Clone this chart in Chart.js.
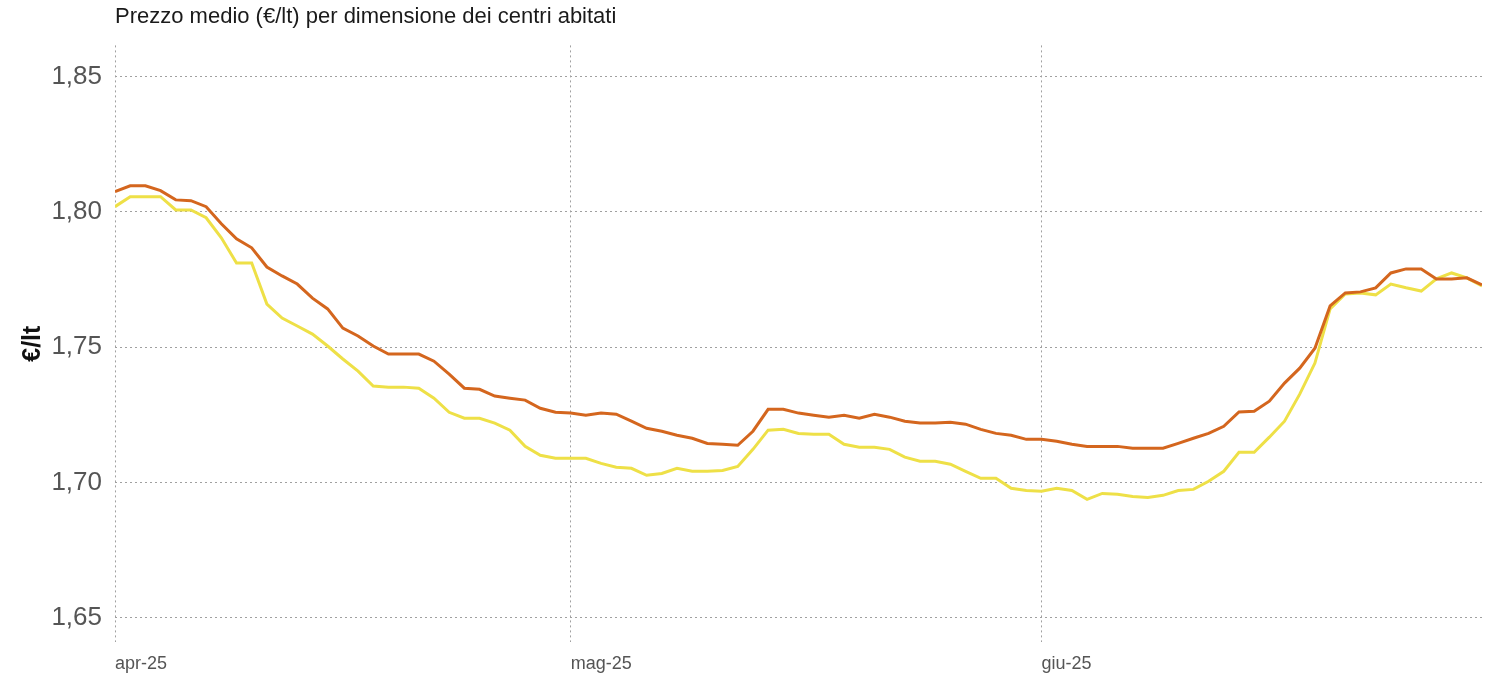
<!DOCTYPE html>
<html>
<head>
<meta charset="utf-8">
<script src="https://cdn.jsdelivr.net/npm/chart.js@4.4.0/dist/chart.umd.min.js"></script>
<style>
  html, body { margin: 0; padding: 0; background: #fff; }
  #wrap { width: 1494px; height: 679px; }
</style>
</head>
<body>
<div id="wrap"><canvas id="chart"></canvas></div>
<script>
// days since 1 April 2025, one point per day
const monthTicks = [0, 30, 61];
const monthLabels = ["apr-25", "mag-25", "giu-25"];
const yTicks = [1.65, 1.70, 1.75, 1.80, 1.85];

const seriesNames = ["Centri grandi", "Centri piccoli"];

const orangeValues = [
  1.8075, 1.8096, 1.8096, 1.8078, 1.8044, 1.8041, 1.8019, 1.7956, 1.7900, 1.7867,
  1.7796, 1.7763, 1.7733, 1.7681, 1.7641, 1.7570, 1.7541, 1.7504, 1.7474, 1.7474,
  1.7474, 1.7448, 1.7400, 1.7348, 1.7344, 1.7319, 1.7311, 1.7304, 1.7274, 1.7259,
  1.7256, 1.7248, 1.7256, 1.7252, 1.7226, 1.7200, 1.7189, 1.7174, 1.7163, 1.7144,
  1.7141, 1.7137, 1.7189, 1.7270, 1.7270, 1.7256, 1.7248, 1.7241, 1.7248, 1.7237,
  1.7252, 1.7241, 1.7226, 1.7219, 1.7219, 1.7222, 1.7215, 1.7196, 1.7181, 1.7174,
  1.7159, 1.7159, 1.7152, 1.7141, 1.7133, 1.7133, 1.7133, 1.7126, 1.7126, 1.7126,
  1.7144, 1.7163, 1.7181, 1.7207, 1.7260, 1.7263, 1.7300, 1.7367, 1.7422, 1.7496,
  1.7652, 1.7700, 1.7704, 1.7719, 1.7774, 1.7789, 1.7789, 1.7752, 1.7752, 1.7756,
  1.7730
];

const yellowValues = [
  1.8019, 1.8056, 1.8056, 1.8056, 1.8007, 1.8007, 1.7978, 1.7904, 1.7811, 1.7811,
  1.7659, 1.7607, 1.7578, 1.7548, 1.7504, 1.7456, 1.7411, 1.7356, 1.7352, 1.7352,
  1.7348, 1.7311, 1.7259, 1.7237, 1.7237, 1.7219, 1.7193, 1.7133, 1.7100, 1.7089,
  1.7089, 1.7089, 1.7070, 1.7056, 1.7052, 1.7026, 1.7033, 1.7052, 1.7041, 1.7041,
  1.7044, 1.7059, 1.7122, 1.7193, 1.7196, 1.7181, 1.7178, 1.7178, 1.7141, 1.7130,
  1.7130, 1.7122, 1.7093, 1.7078, 1.7078, 1.7067, 1.7041, 1.7015, 1.7015, 1.6978,
  1.6970, 1.6967, 1.6978, 1.6970, 1.6937, 1.6959, 1.6956, 1.6948, 1.6944, 1.6952,
  1.6970, 1.6974, 1.7004, 1.7041, 1.7111, 1.7111, 1.7167, 1.7226, 1.7326, 1.7441,
  1.7641, 1.7696, 1.7700, 1.7693, 1.7733, 1.7719, 1.7707, 1.7752, 1.7774, 1.7756,
  1.7726
];

const toPoints = (vals) => vals.map((v, i) => ({ x: i, y: v }));
const gridStyle = { color: "#a0a0a0", lineWidth: 1, drawTicks: false };
const dash = [2, 3];

new Chart(document.getElementById("chart"), {
  type: "line",
  data: {
    datasets: [
      {
        label: seriesNames[0],
        data: toPoints(orangeValues),
        borderColor: "#d4661e",
        borderWidth: 3,
        pointRadius: 0,
        tension: 0,
      },
      {
        label: seriesNames[1],
        data: toPoints(yellowValues),
        borderColor: "#eee047",
        borderWidth: 3,
        pointRadius: 0,
        tension: 0,
      },
    ],
  },
  options: {
    responsive: true,
    maintainAspectRatio: false,
    animation: false,
    layout: { padding: { left: 0, right: 12, top: 0, bottom: 0 } },
    plugins: {
      legend: { display: false },
      tooltip: { enabled: false },
      title: {
        display: true,
        text: "Prezzo medio (€/lt) per dimensione dei centri abitati",
        align: "start",
        fullSize: false,
        color: "#1a1a1a",
        font: { family: "'Liberation Sans', Arial, sans-serif", size: 22, weight: "normal" },
        padding: { top: 4, bottom: 15 },
      },
    },
    scales: {
      x: {
        type: "linear",
        min: 0,
        max: 90,
        afterBuildTicks: (axis) => {
          axis.ticks = monthTicks.map((v) => ({ value: v }));
        },
        afterFit: (axis) => {
          axis.height = 37;
        },
        ticks: {
          autoSkip: false,
          maxRotation: 0,
          align: "start",
          padding: 11,
          color: "#555",
          font: { family: "'Liberation Sans', Arial, sans-serif", size: 18 },
          callback: (v) => monthLabels[monthTicks.indexOf(v)],
        },
        grid: { ...gridStyle },
        border: { display: false, dash: dash },
      },
      y: {
        min: 1.641,
        max: 1.8615,
        afterBuildTicks: (axis) => {
          axis.ticks = yTicks.map((v) => ({ value: v }));
        },
        afterFit: (axis) => {
          axis.width = 115;
        },
        ticks: {
          padding: 13,
          color: "#555",
          font: { family: "'Liberation Sans', Arial, sans-serif", size: 26 },
          callback: (v) => v.toFixed(2).replace(".", ","),
        },
        title: {
          display: true,
          text: "€/lt",
          color: "#111",
          font: { family: "'Liberation Sans', Arial, sans-serif", size: 25, weight: "bold" },
          padding: { top: 18, bottom: 0 },
        },
        grid: { ...gridStyle },
        border: { display: false, dash: dash },
      },
    },
  },
});
</script>
</body>
</html>
